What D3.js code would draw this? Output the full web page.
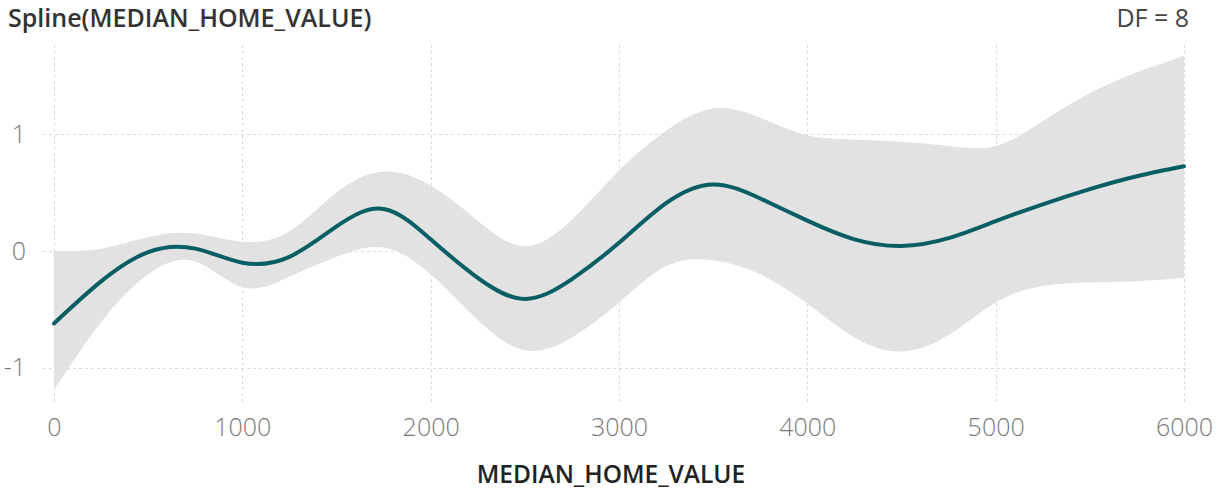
<!DOCTYPE html>
<html>
<head>
<meta charset="utf-8">
<script src="https://cdn.jsdelivr.net/npm/d3@7"></script>
<style>
  html, body { margin: 0; padding: 0; background: #fff; }
  svg { display: block; }
</style>
</head>
<body>
<svg id="chart" width="1219" height="491"></svg>
<script>
// Spline term for MEDIAN_HOME_VALUE with its confidence band
const xValues   = [0, 250, 500, 750, 1000, 1250, 1500, 1750, 2000, 2250, 2500, 2750, 3000,
                   3250, 3500, 3750, 4000, 4250, 4500, 4750, 5000, 5250, 5500, 5750, 6000];
const splineFit = [-0.62, -0.26, -0.01, 0.02, -0.10, -0.05, 0.21, 0.36, 0.10, -0.23, -0.41, -0.24, 0.07,
                   0.41, 0.57, 0.45, 0.26, 0.10, 0.043, 0.11, 0.255, 0.40, 0.53, 0.64, 0.725];
const upperBand = [0.0, 0.02, 0.12, 0.15, 0.08, 0.17, 0.5, 0.68, 0.56, 0.26, 0.04, 0.27, 0.69,
                   1.03, 1.22, 1.14, 0.99, 0.955, 0.935, 0.9, 0.9, 1.11, 1.35, 1.53, 1.67];
const lowerBand = [-1.19, -0.61, -0.2, -0.09, -0.31, -0.22, -0.05, 0.03, -0.2, -0.59, -0.85, -0.74, -0.44,
                   -0.13, -0.08, -0.2, -0.45, -0.74, -0.86, -0.72, -0.44, -0.3, -0.27, -0.26, -0.23];
const xTicks = [0, 1000, 2000, 3000, 4000, 5000, 6000];
const yTicks = [-1, 0, 1];

const titleText = "Spline(MEDIAN_HOME_VALUE)";
const dfText = "DF = 8";
const xLabel = "MEDIAN_HOME_VALUE";

const svg = d3.select("#chart");
const font = "'Open Sans', 'Noto Sans', sans-serif";

const plot = { left: 43, right: 1190, top: 45, bottom: 405 };

const x = d3.scaleLinear().domain([0, 6000]).range([54, 1184]);
const y = d3.scaleLinear().domain([-1, 1]).range([367.8, 134.2]);

const rows = xValues.map((v, i) => ({ x: v, fit: splineFit[i], lo: lowerBand[i], hi: upperBand[i] }));

// gridlines
const grid = svg.append("g").attr("stroke", "#d9d9d9").attr("stroke-width", 1)
  .attr("stroke-dasharray", "3,3").attr("fill", "none");
grid.selectAll("line.v").data(xTicks).join("line")
  .attr("class", "v")
  .attr("x1", d => Math.round(x(d)) + 0.5).attr("x2", d => Math.round(x(d)) + 0.5)
  .attr("y1", plot.top).attr("y2", plot.bottom);
grid.selectAll("line.h").data(yTicks).join("line")
  .attr("class", "h")
  .attr("x1", plot.left).attr("x2", plot.right)
  .attr("y1", d => Math.round(y(d)) + 0.5).attr("y2", d => Math.round(y(d)) + 0.5);

// confidence band
const band = d3.area()
  .x(d => x(d.x)).y0(d => y(d.lo)).y1(d => y(d.hi))
  .curve(d3.curveNatural);
svg.append("path").datum(rows).attr("d", band)
  .attr("fill", "#e0e0e0").attr("fill-opacity", 0.92);

// fitted spline
const line = d3.line()
  .x(d => x(d.x)).y(d => y(d.fit))
  .curve(d3.curveNatural);
svg.append("path").datum(rows).attr("d", line)
  .attr("fill", "none").attr("stroke", "#075e63")
  .attr("stroke-width", 4).attr("stroke-linecap", "round").attr("stroke-linejoin", "round");

// axes (labels only)
const fmt = d => String(d);
const xAxis = svg.append("g").attr("transform", `translate(0, ${plot.bottom})`)
  .call(d3.axisBottom(x).tickValues(xTicks).tickSize(0).tickPadding(0).tickFormat(fmt));
xAxis.select(".domain").remove();
xAxis.selectAll("text").attr("font-family", font).attr("font-size", 25)
  .attr("fill", "#7a7a7a").attr("font-weight", 300)
  .attr("dy", null).attr("y", 31);

const yAxis = svg.append("g").attr("transform", `translate(26, 0)`)
  .call(d3.axisLeft(y).tickValues(yTicks).tickSize(0).tickPadding(0).tickFormat(fmt));
yAxis.select(".domain").remove();
yAxis.selectAll("text").attr("font-family", font).attr("font-size", 25)
  .attr("fill", "#7a7a7a").attr("font-weight", 300);

// title and DF annotation
svg.append("text").attr("x", 8).attr("y", 27)
  .attr("font-family", font).attr("font-size", 25).attr("font-weight", 600)
  .attr("fill", "#333").text(titleText);
svg.append("text").attr("x", 1189).attr("y", 27).attr("text-anchor", "end")
  .attr("font-family", font).attr("font-size", 25)
  .attr("fill", "#444").text(dfText);

// x axis title
svg.append("text").attr("x", 611).attr("y", 483).attr("text-anchor", "middle")
  .attr("font-family", font).attr("font-size", 24.5).attr("font-weight", 600)
  .attr("fill", "#222").text(xLabel);
</script>
</body>
</html>
